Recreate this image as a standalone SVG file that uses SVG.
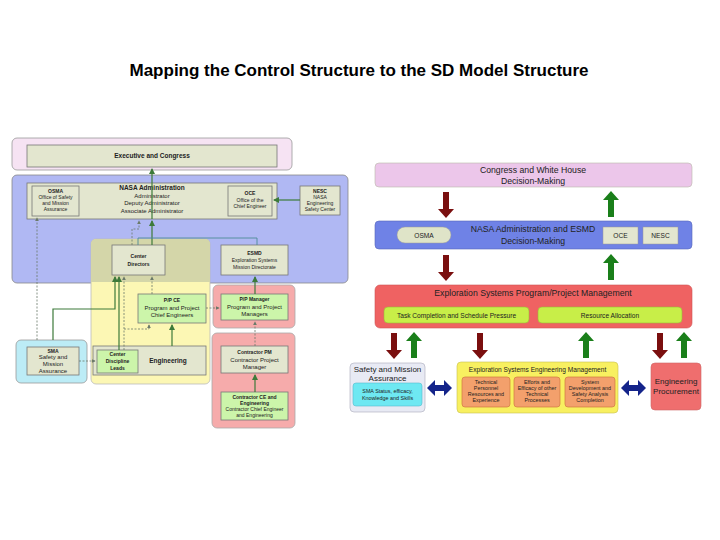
<svg xmlns="http://www.w3.org/2000/svg" width="720" height="540" viewBox="0 0 720 540">
<style>
text{font-family:"Liberation Sans",Arial,sans-serif;fill:#222;text-anchor:middle}
.t{font-size:17px;font-weight:bold;fill:#000}
.s{font-size:5px}
.sb{font-size:5px;font-weight:bold}
.m{font-size:6px}
.mb{font-size:6.5px;font-weight:bold}
.r{font-size:8px}
.r2{font-size:8.7px}
.rs{font-size:6.6px}
.rx{font-size:5.4px}
.box{fill:#e3e6cf;stroke:#777;stroke-width:0.8}
.grn{fill:#ccf5aa;stroke:#777;stroke-width:0.8}
.gl{fill:none;stroke:#3d7a3a;stroke-width:1.2}
.dl{fill:none;stroke:#6b7a6a;stroke-width:0.8;stroke-dasharray:2,1.5}
.dr{fill:#7a0f0f}
.ga{fill:#1a7f1a}
.ba{fill:#14248a}
.orng{fill:#f3a06c;stroke:#d07a40;stroke-width:0.7}
</style>
<defs>
<marker id="ag" viewBox="0 0 6 6" refX="5" refY="3" markerWidth="5" markerHeight="5" orient="auto"><path d="M0,0 L6,3 L0,6 z" fill="#3d7a3a"/></marker>
<marker id="ad" viewBox="0 0 6 6" refX="5" refY="3" markerWidth="5" markerHeight="5" orient="auto"><path d="M0,0 L6,3 L0,6 z" fill="#6b7a6a"/></marker>
<path id="down" d="M-3,0 h6 v17 h5 l-8,9 l-8,-9 h5 z"/>
<path id="up" d="M-3,26 h6 v-17 h5 l-8,-9 l-8,9 h5 z"/>
<path id="dbl" d="M0,0 l8,-8 v5 h9 v-5 l8,8 l-8,8 v-5 h-9 v5 z"/>
</defs>

<text class="t" x="359" y="76">Mapping the Control Structure to the SD Model Structure</text>

<!-- LEFT DIAGRAM -->
<g id="exec-panel">
<rect x="12" y="138" width="280" height="32" rx="5" fill="#f6e3f3" stroke="#999" stroke-width="0.8"/>
<rect x="27" y="145" width="250" height="22" class="box"/>
<text class="mb" x="152" y="158">Executive and Congress</text>
</g>
<g id="nasa-panel">
<rect x="12" y="175" width="336" height="108" rx="5" fill="#b0b8f3" stroke="#888" stroke-width="0.8"/>
<rect x="27" y="183" width="250" height="36" class="box"/>
<text class="mb" x="152" y="190">NASA Administration</text>
<text class="m" x="152" y="197.5">Administrator</text>
<text class="m" x="152" y="205">Deputy Administrator</text>
<text class="m" x="152" y="212.5">Associate Administrator</text>
</g>
<g id="osma-l">
<rect x="32" y="186" width="47" height="30" class="box"/>
<text class="sb" x="55.5" y="193">OSMA</text>
<text class="s" x="55.5" y="199">Office of Safety</text>
<text class="s" x="55.5" y="205">and Mission</text>
<text class="s" x="55.5" y="211">Assurance</text>
</g>
<g id="oce-l">
<rect x="228" y="186" width="44" height="30" class="box"/>
<text class="sb" x="250" y="195">OCE</text>
<text class="s" x="250" y="201.5">Office of the</text>
<text class="s" x="250" y="208">Chief Engineer</text>
</g>
<g id="nesc-l">
<rect x="300" y="186" width="40" height="29" class="box"/>
<text class="sb" x="320" y="193">NESC</text>
<text class="s" x="320" y="199">NASA</text>
<text class="s" x="320" y="205">Engineering</text>
<text class="s" x="320" y="211">Safety Center</text>
</g>
<g id="center-panel">
<rect x="91" y="239" width="119" height="145" rx="5" fill="#fcf7b4" stroke="#bbb" stroke-width="0.8"/>
<path d="M91,282 V244 a5,5 0 0 1 5,-5 H205 a5,5 0 0 1 5,5 V282 z" fill="#d4d6a9"/>
</g>
<g id="center-directors">
<rect x="112" y="245" width="53" height="30" class="box"/>
<text class="sb" x="138.5" y="258">Center</text>
<text class="sb" x="138.5" y="265.5">Directors</text>
</g>
<g id="esmd-l">
<rect x="221" y="245" width="67" height="30" class="box"/>
<text class="sb" x="254.5" y="254.5">ESMD</text>
<text class="s" x="254.5" y="261.5">Exploration Systems</text>
<text class="s" x="254.5" y="268.5">Mission Directorate</text>
</g>
<g id="ppce">
<rect x="138" y="294" width="68" height="29" class="grn"/>
<text class="sb" x="172" y="302">P/P CE</text>
<text class="m" x="172" y="309.5">Program and Project</text>
<text class="m" x="172" y="317">Chief Engineers</text>
</g>
<g id="ppm-panel">
<rect x="213" y="285" width="82" height="43" rx="5" fill="#f6abab" stroke="#aaa" stroke-width="0.8"/>
<rect x="221" y="294" width="67" height="26" class="grn"/>
<text class="sb" x="254.5" y="301">P/P Manager</text>
<text class="m" x="254.5" y="308.5">Program and Project</text>
<text class="m" x="254.5" y="316">Managers</text>
</g>
<g id="contractor-panel">
<rect x="212" y="333" width="83" height="95" rx="5" fill="#f6abab" stroke="#aaa" stroke-width="0.8"/>
</g>
<g id="contractor-pm">
<rect x="221" y="346" width="67" height="27" class="box"/>
<text class="sb" x="254.5" y="354">Contractor PM</text>
<text class="m" x="254.5" y="361.5">Contractor Project</text>
<text class="m" x="254.5" y="369">Manager</text>
</g>
<g id="contractor-ce">
<rect x="221" y="392" width="67" height="28" class="grn"/>
<text class="sb" x="254.5" y="398.5">Contractor CE and</text>
<text class="sb" x="254.5" y="404.5">Engineering</text>
<text class="s" x="254.5" y="410.5">Contractor Chief Engineer</text>
<text class="s" x="254.5" y="416.5">and Engineering</text>
</g>
<g id="sma-l">
<rect x="16" y="340" width="71" height="43" rx="5" fill="#bcecf6" stroke="#999" stroke-width="0.8"/>
<rect x="27" y="347" width="52" height="28" class="box"/>
<text class="sb" x="53" y="352.5">SMA</text>
<text class="m" x="53" y="359">Safety and</text>
<text class="m" x="53" y="366">Mission</text>
<text class="m" x="53" y="373">Assurance</text>
</g>
<g id="engineering">
<rect x="93" y="346" width="113" height="29" class="box"/>
<text class="mb" x="168" y="363">Engineering</text>
</g>
<g id="cdl">
<rect x="97" y="350" width="41" height="23" class="grn"/>
<text class="sb" x="117.5" y="356">Center</text>
<text class="sb" x="117.5" y="363">Discipline</text>
<text class="sb" x="117.5" y="370">Leads</text>
</g>

<g id="left-connectors">
<path class="gl" d="M152,219 V169" marker-end="url(#ag)"/>
<path class="gl" d="M152,245 V221" marker-end="url(#ag)"/>
<path class="dl" d="M132,245 V229 H139 V221" marker-end="url(#ad)"/>
<path fill="none" stroke="#4f8a96" stroke-width="0.9" d="M138,245 V238 H257 V245"/>
<path class="gl" d="M300,200 H274" marker-end="url(#ag)"/>
<path class="dl" d="M37,340 V218" marker-end="url(#ad)"/>
<path class="gl" d="M53,340 V309 H115 V277" marker-end="url(#ag)"/>
<path class="gl" d="M119,350 V277" marker-end="url(#ag)"/>
<path class="dl" d="M124,350 V277" marker-end="url(#ad)"/>
<path class="dl" d="M124,329 H149 V325" marker-end="url(#ad)"/>
<path class="gl" d="M172,346 V325" marker-end="url(#ag)"/>
<path class="dl" d="M152,294 V277" marker-end="url(#ad)"/>
<path class="dl" d="M206,308 H219" marker-end="url(#ad)"/>
<path class="gl" d="M255,294 V277" marker-end="url(#ag)"/>
<path class="dl" d="M255,346 V322" marker-end="url(#ad)"/>
<path class="gl" d="M255,392 V375" marker-end="url(#ag)"/>
<path class="dl" d="M79,361 H95" marker-end="url(#ad)"/>
</g>

<!-- RIGHT DIAGRAM -->
<g id="congress-wh">
<rect x="375" y="163" width="317" height="24" rx="4" fill="#ecc6ea" stroke="#bba" stroke-width="0.6"/>
<text class="r2" x="533" y="172.5">Congress and White House</text>
<text class="r2" x="533" y="183.5">Decision-Making</text>
</g>
<g id="nasa-esmd">
<rect x="375" y="221" width="317" height="28" rx="4" fill="#6f82e6" stroke="#5566bb" stroke-width="0.6"/>
<text class="r2" x="533" y="232">NASA Administration and ESMD</text>
<text class="r2" x="533" y="243.5">Decision-Making</text>
<rect x="397" y="227" width="54" height="16" rx="8" fill="#dfe4c8" stroke="#999" stroke-width="0.5"/>
<text class="rs" x="424" y="237.5">OSMA</text>
<rect x="603" y="227" width="35" height="17" fill="#e3e6cf" stroke="#999" stroke-width="0.5"/>
<text class="rs" x="620.5" y="238">OCE</text>
<rect x="643" y="227" width="35" height="17" fill="#e3e6cf" stroke="#999" stroke-width="0.5"/>
<text class="rs" x="660.5" y="238">NESC</text>
</g>
<g id="espm">
<rect x="375" y="285" width="317" height="43" rx="5" fill="#ef6262" stroke="#cc5555" stroke-width="0.6"/>
<text class="r2" x="533" y="296">Exploration Systems Program/Project Management</text>
<rect x="384" y="307" width="145" height="16" rx="4" fill="#c8ee48" stroke="#9ab83a" stroke-width="0.6"/>
<text class="rs" x="456.5" y="317.5">Task Completion and Schedule Pressure</text>
<rect x="538" y="307" width="144" height="16" rx="4" fill="#c8ee48" stroke="#9ab83a" stroke-width="0.6"/>
<text class="rs" x="610" y="317.5">Resource Allocation</text>
</g>
<g id="sma-r">
<rect x="350" y="363" width="75" height="49" rx="4" fill="#e8eaf4" stroke="#aab" stroke-width="0.6"/>
<text class="r" x="387.5" y="372">Safety and Mission</text>
<text class="r" x="387.5" y="381">Assurance</text>
<rect x="353" y="383" width="69" height="23" rx="3" fill="#6ee8f2" stroke="#55bbcc" stroke-width="0.6"/>
<text class="rx" x="387.5" y="392.5">SMA Status, efficacy,</text>
<text class="rx" x="387.5" y="399.5">Knowledge and Skills</text>
</g>
<g id="esem">
<rect x="457" y="362" width="161" height="51" rx="4" fill="#f8f060" stroke="#c8c050" stroke-width="0.6"/>
<text class="rs" x="537.5" y="371.5">Exploration Systems Engineering Management</text>
<rect x="462" y="377" width="48" height="30" rx="3" class="orng"/>
<text class="rx" x="486" y="384">Technical</text>
<text class="rx" x="486" y="390">Personnel</text>
<text class="rx" x="486" y="396">Resources and</text>
<text class="rx" x="486" y="402">Experience</text>
<rect x="514" y="377" width="46" height="30" rx="3" class="orng"/>
<text class="rx" x="537" y="384">Efforts and</text>
<text class="rx" x="537" y="390">Efficacy of other</text>
<text class="rx" x="537" y="396">Technical</text>
<text class="rx" x="537" y="402">Processes</text>
<rect x="565" y="377" width="50" height="30" rx="3" class="orng"/>
<text class="rx" x="590" y="384">System</text>
<text class="rx" x="590" y="390">Development and</text>
<text class="rx" x="590" y="396">Safety Analysis</text>
<text class="rx" x="590" y="402">Completion</text>
</g>
<g id="eng-proc">
<rect x="651" y="363" width="50" height="47" rx="4" fill="#ef6e6e" stroke="#cc6666" stroke-width="0.6"/>
<text class="r" x="676" y="384">Engineering</text>
<text class="r" x="676" y="394">Procurement</text>
</g>

<g id="right-connectors">
<use href="#down" class="dr" x="446" y="192"/>
<use href="#up" class="ga" x="611" y="191"/>
<use href="#down" class="dr" x="446" y="255"/>
<use href="#up" class="ga" x="611" y="254"/>
<use href="#down" class="dr" x="394" y="333"/>
<use href="#up" class="ga" x="414" y="332"/>
<use href="#down" class="dr" x="480" y="333"/>
<use href="#up" class="ga" x="586" y="332"/>
<use href="#down" class="dr" x="660" y="333"/>
<use href="#up" class="ga" x="684" y="332"/>
<use href="#dbl" class="ba" x="427" y="388"/>
<use href="#dbl" class="ba" x="621" y="388"/>
</g>
</svg>
